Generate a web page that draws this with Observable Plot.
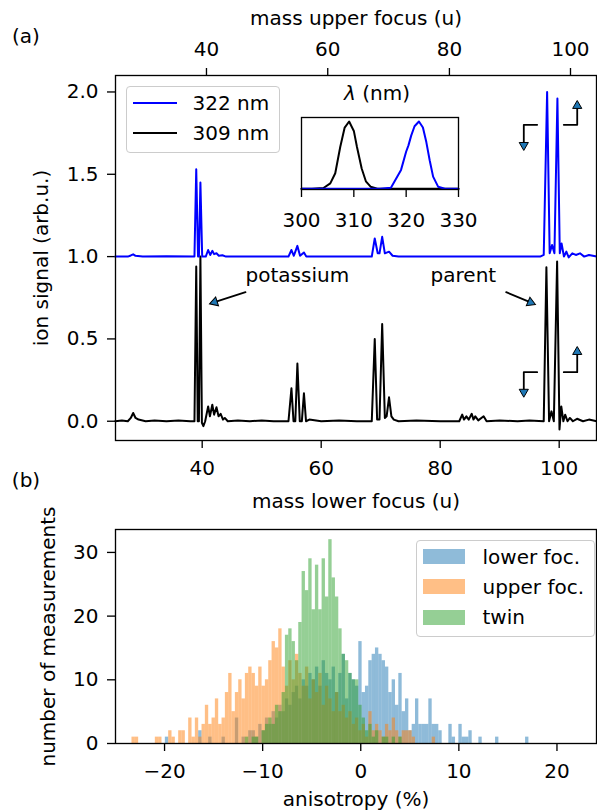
<!DOCTYPE html>
<html><head><meta charset="utf-8">
<script src="https://cdn.jsdelivr.net/npm/d3@7"></script>
<script src="https://cdn.jsdelivr.net/npm/@observablehq/plot@0.6"></script>
<style>
body{margin:0;background:#fff;font-family:"DejaVu Sans",sans-serif;}
#fig{position:relative;width:597px;height:811px;overflow:hidden;background:#fff;}
#fig > *{position:absolute;}
.lbl{font-size:20px;color:#000;white-space:nowrap;line-height:1;font-family:"DejaVu Sans",sans-serif;}
.legend{border:1.33px solid #cccccc;border-radius:4px;background:rgba(255,255,255,0.8);box-sizing:border-box;}
</style></head><body><div id="fig"></div><script>
// ---------- Panel (a): mass spectra ----------
const mass309 = [25.4,26.5,27.5,28.0,28.4,28.8,29.3,30.5,32,34,36,38,38.7,39.0,39.25,39.45,39.7,39.95,40.2,40.5,41.0,41.3,41.7,42.0,42.4,42.75,43.1,43.5,43.8,44.3,46,48,50,52,54.5,55.0,55.35,55.65,56.0,56.4,56.75,57.1,57.45,58,60,63,66,68.5,69.0,69.4,69.8,70.25,70.7,71.0,71.4,71.8,72.2,73,76,80,83.2,83.7,84.0,84.4,84.8,85.3,85.6,85.9,86.4,87.3,87.8,90,93,95,97.4,97.85,98.3,98.7,99.1,99.65,100.05,100.35,100.7,101.0,101.4,101.8,102.3,103,104,105,106.3];
const signal309 = [0.0,0.005,0.0,0.02,0.05,0.02,0.01,0.0,0.005,0.0,0.005,0.0,0.0,0.94,0.0,0.0,1.0,-0.01,-0.03,0.0,0.09,0.03,0.10,0.04,0.085,0.03,0.045,0.01,0.02,0.0,0.005,0.0,0.005,0.0,0.0,0.20,0.0,0.0,0.35,0.0,0.0,0.17,0.0,0.01,0.0,0.005,0.0,0.0,0.50,0.01,0.01,0.59,0.02,0.03,0.145,0.03,0.01,0.0,0.005,0.0,0.0,0.04,0.01,0.03,0.01,0.045,0.01,0.03,0.005,0.03,0.0,0.005,0.0,0.005,0.0,0.935,0.0,0.06,0.0,0.97,-0.05,0.09,0.0,0.04,0.0,0.02,0.0,0.015,0.0,0.01,0.0];
const mass322 = [25.4,27.5,28.0,28.4,28.8,30,34,38.7,39.0,39.3,39.45,39.7,40.0,40.6,41.0,41.35,41.7,42.0,42.4,42.8,43.4,44,50,54.5,55.0,55.4,56.0,56.45,57.1,57.5,60,68.5,69.0,69.5,69.8,70.25,70.7,71.4,72,73,80,90,96.8,97.4,97.97,98.4,98.8,99.2,99.7,100.1,100.4,100.8,101.2,101.6,102.2,102.8,103.5,104.2,105,106.3];
const signal322 = [0,0,0.007,0.014,0.005,0,0.002,0,0.53,0.0,0.0,0.45,0.0,0.0,0.04,0.01,0.035,0.015,0.02,0.005,0.008,0,0,0,0.04,0.005,0.065,0.005,0.025,0,0,0,0.11,0.02,0.02,0.12,0.02,0.03,0.005,0,0,0,0,0.01,1.0,0.02,0.07,0.02,0.96,0.02,0.08,0.0,0.03,-0.005,0.02,0.01,0.02,0.0,0.01,0.0];
const offset322 = 1.0;
const seriesLabels = ["322 nm", "309 nm"];
const lowerMassTicks = [40, 60, 80, 100];
const upperMassTickLabels = [40, 60, 80, 100];
const upperMassTickAt = [40.72, 61.1, 81.55, 101.9]; // lower-focus mass where each upper-focus tick falls
const signalTicks = [0, 0.5, 1.0, 1.5, 2.0];

// inset: laser spectra
const lambda309 = [300,302,304.2,305.5,306.45,307.4,308.25,309.1,310.0,310.6,311.5,312.3,313.2,314.5,317,320,325,330];
const spectrum309 = [0,0,0.01,0.08,0.23,0.62,0.91,1.0,0.86,0.62,0.30,0.11,0.03,0,0,0,0,0];
const lambda322 = [300,305,310,315,317.09,319.02,319.99,320.44,320.96,321.6,322.44,323.2,323.86,324.5,325.15,326.1,327.4,330];
const spectrum322 = [0,0,0,0,0.013,0.28,0.55,0.645,0.79,0.93,1.0,0.91,0.69,0.42,0.18,0.03,0,0];
const lambdaTicks = [300, 310, 320, 330];

// annotations
const annotationLabels = ["potassium", "parent"];
const annotationMass = [56.0, 83.9];
const annotationSignal = [0.885, 0.885];
const arrowPaths = [
  [[47.28, 0.784], [42.08, 0.723]],
  [[91.09, 0.784], [95.19, 0.7215]],
  [[96.30, 0.298], [94.05, 0.298], [94.05, 0.178]],
  [[100.77, 0.298], [103.03, 0.298], [103.03, 0.4216]],
  [[96.30, 1.8007], [94.05, 1.8007], [94.05, 1.677]],
  [[100.77, 1.8007], [103.03, 1.8007], [103.03, 1.916]]
];
const arrowHeadAngles = [252, 113, 180, 0, 180, 0];

// ---------- Panel (b): anisotropy histograms ----------
const binStart = -24.0, binWidth = 0.34;
const histLabels = ["lower foc.", "upper foc.", "twin"];
const lowerFocFirstBin = 12;
const lowerFocCounts = [1,0,0,0,0,0,0,0,0,0, 2,0,0,1,0,0,0,1,0,0, 0,4,0,1,0,2,2,1,3,2, 4,3,5,4,6,5,7,6,8,9, 7,10,9,11,10,12,9,13,11,10, 12,8,11,14,7,11,10,9,16,8, 9,13,14,15,14,13,12,8,10,6, 11,5,7,2,3,7,3,3,3,7, 3,3,2,0,0,3,1,0,3,1, 1,2,0,0,1,0,0,0,0,1, 0,0,0,0,0,0,0,0,1];
const upperFocFirstBin = 0;
const upperFocCounts = [0,0,1,1,0,0,0,0,0,1, 1,0,0,2,1,0,2,2,0,4, 1,4,1,3,6,3,4,7,3,4, 8,11,5,8,10,7,11,12,11,9, 12,9,10,13,16,15,18,12,9,13, 10,14,11,9,12,7,10,8,11,6, 9,7,5,8,5,6,4,5,3,4, 2,3,1,5,2,3,2,1,3,2, 4,2,1,2,2,2,1,0,0,0, 0,0,1];
const twinFirstBin = 36;
const twinCounts = [1,0,1,1,0,2,3,4,3,6, 5,8,17,18,16,13,19,27,24,29, 21,28,21,29,23,32,26,23,18,14, 13,11,10,10,6,4,2,3,1,2, 0,1,1,0,1,0,1];
const anisoTicks = [-20, -10, 0, 10, 20];
const countTicks = [0, 10, 20, 30];

// ---------- build ----------
const fig = document.getElementById("fig");
const FONT = "DejaVu Sans";
const FS = 20;
const C0 = "#1f77b4", C1 = "#ff7f0e", C2 = "#2ca02c";

const data309 = mass309.map((m, i) => ({mass: m, signal: signal309[i]}));
const data322 = mass322.map((m, i) => ({mass: m, signal: signal322[i] + offset322}));
const arrowRows = [];
arrowPaths.forEach((p, j) => p.forEach(([x, y]) => arrowRows.push({id: j, x, y})));
const headRows = arrowPaths.map((p, j) => ({x: p[p.length - 1][0], y: p[p.length - 1][1], angle: arrowHeadAngles[j]}));
const annRows = annotationLabels.map((t, i) => ({t, x: annotationMass[i], y: annotationSignal[i]}));

const axisStyle = {tickSize: 8, strokeWidth: 1.33, labelArrow: "none"};
const svgStyle = {fontFamily: FONT, fontSize: FS + "px", background: "transparent", overflow: "visible", color: "black"};

const plotA = Plot.plot({
  width: 597, height: 505,
  marginLeft: 115, marginRight: 1, marginTop: 75, marginBottom: 65,
  style: svgStyle,
  x: {domain: [25.43, 106.27]},
  y: {domain: [-0.117, 2.1]},
  marks: [
    Plot.axisX({...axisStyle, anchor: "bottom", ticks: lowerMassTicks, tickFormat: d => String(d), tickPadding: 12,
      label: "mass lower focus (u)", labelAnchor: "center", labelOffset: 67}),
    Plot.axisX({...axisStyle, anchor: "top", ticks: upperMassTickAt,
      tickFormat: d => String(upperMassTickLabels[upperMassTickAt.indexOf(d)]), tickPadding: 12,
      label: "mass upper focus (u)", labelAnchor: "center", labelOffset: 65}),
    Plot.axisY({...axisStyle, ticks: signalTicks, tickFormat: d => d.toFixed(1), tickPadding: 9,
      label: "ion signal (arb.u.)", labelAnchor: "center", labelOffset: 82}),
    Plot.line(data309, {x: "mass", y: "signal", stroke: "black", strokeWidth: 2}),
    Plot.line(data322, {x: "mass", y: "signal", stroke: "#0000ff", strokeWidth: 2}),
    Plot.line(arrowRows, {x: "x", y: "y", z: "id", stroke: "black", strokeWidth: 1.8}),
    Plot.dot(headRows, {x: "x", y: "y", rotate: "angle", symbol: "triangle", r: 3.4, fill: C0, stroke: "black", strokeWidth: 1}),
    Plot.text(annRows, {x: "x", y: "y", text: "t", fontSize: FS, fill: "black"}),
    Plot.frame({stroke: "black", strokeWidth: 1.33})
  ]
});
plotA.style.left = "0px"; plotA.style.top = "0px";
fig.appendChild(plotA);

const inset = Plot.plot({
  width: 201, height: 127,
  marginLeft: 22, marginRight: 22, marginTop: 10, marginBottom: 45,
  style: svgStyle,
  x: {domain: [300, 330]},
  y: {domain: [-0.012, 1.06], axis: null},
  marks: [
    Plot.axisX({...axisStyle, anchor: "bottom", ticks: lambdaTicks, tickFormat: d => String(d), tickPadding: 15, label: null}),
    Plot.line(lambda309.map((l, i) => ({l, v: spectrum309[i]})), {x: "l", y: "v", stroke: "black", strokeWidth: 2}),
    Plot.line(lambda322.map((l, i) => ({l, v: spectrum322[i]})), {x: "l", y: "v", stroke: "#0000ff", strokeWidth: 2}),
    Plot.frame({stroke: "black", strokeWidth: 1.33})
  ]
});
inset.style.left = "279px"; inset.style.top = "107px";
fig.appendChild(inset);

function bins(first, counts) {
  return counts.map((c, i) => ({x1: binStart + (first + i) * binWidth, x2: binStart + (first + i + 1) * binWidth, c}));
}
const plotB = Plot.plot({
  width: 597, height: 306,
  marginLeft: 115, marginRight: 1, marginTop: 24, marginBottom: 68,
  style: svgStyle,
  x: {domain: [-25, 24.03]},
  y: {domain: [0, 33.6]},
  marks: [
    Plot.rect(bins(lowerFocFirstBin, lowerFocCounts), {x1: "x1", x2: "x2", y1: 0, y2: "c", fill: C0, fillOpacity: 0.5}),
    Plot.rect(bins(upperFocFirstBin, upperFocCounts), {x1: "x1", x2: "x2", y1: 0, y2: "c", fill: C1, fillOpacity: 0.5}),
    Plot.rect(bins(twinFirstBin, twinCounts), {x1: "x1", x2: "x2", y1: 0, y2: "c", fill: C2, fillOpacity: 0.5}),
    Plot.axisX({...axisStyle, anchor: "bottom", ticks: anisoTicks, tickFormat: d3.format("d"), tickPadding: 12,
      label: "anisotropy (%)", labelAnchor: "center", labelOffset: 62}),
    Plot.axisY({...axisStyle, ticks: countTicks, tickFormat: d3.format("d"), tickPadding: 9,
      label: "number of measurements", labelAnchor: "center", labelOffset: 75}),
    Plot.frame({stroke: "black", strokeWidth: 1.33})
  ]
});
plotB.style.left = "0px"; plotB.style.top = "505px";
fig.appendChild(plotB);

// ---------- HTML text / legends ----------
function addText(html, x, y, anchor = "center") {
  const d = document.createElement("div");
  d.className = "lbl";
  d.innerHTML = html;
  d.style.left = x + "px"; d.style.top = y + "px";
  d.style.transform = anchor === "center" ? "translate(-50%,-50%)" : "translate(0,-50%)";
  fig.appendChild(d);
  return d;
}
addText("(a)", 26, 36);
addText("(b)", 26, 480);
addText("<i>λ</i> (nm)", 377, 93);

// legend (a)
const legA = document.createElement("div");
legA.className = "legend";
Object.assign(legA.style, {left: "126px", top: "86px", width: "154px", height: "67px"});
fig.appendChild(legA);
const legAColors = ["#0000ff", "black"];
const legAY = [103.3, 132.7];
seriesLabels.forEach((t, i) => {
  const ln = document.createElement("div");
  Object.assign(ln.style, {left: "133px", top: (legAY[i] - 1) + "px", width: "44px", height: "2px", background: legAColors[i]});
  fig.appendChild(ln);
  addText(t, 192.5, legAY[i], "left");
});

// legend (b)
const legB = document.createElement("div");
legB.className = "legend";
Object.assign(legB.style, {left: "416px", top: "540px", width: "179px", height: "97px"});
fig.appendChild(legB);
const legBColors = ["#8fbbd9", "#ffbf86", "#95cf95"];
const legBY = [556.7, 586.7, 617.3];
histLabels.forEach((t, i) => {
  const sw = document.createElement("div");
  Object.assign(sw.style, {left: "423px", top: (legBY[i] - 7.5) + "px", width: "42px", height: "15px", background: legBColors[i]});
  fig.appendChild(sw);
  addText(t, 482.5, legBY[i], "left");
});
</script></body></html>
